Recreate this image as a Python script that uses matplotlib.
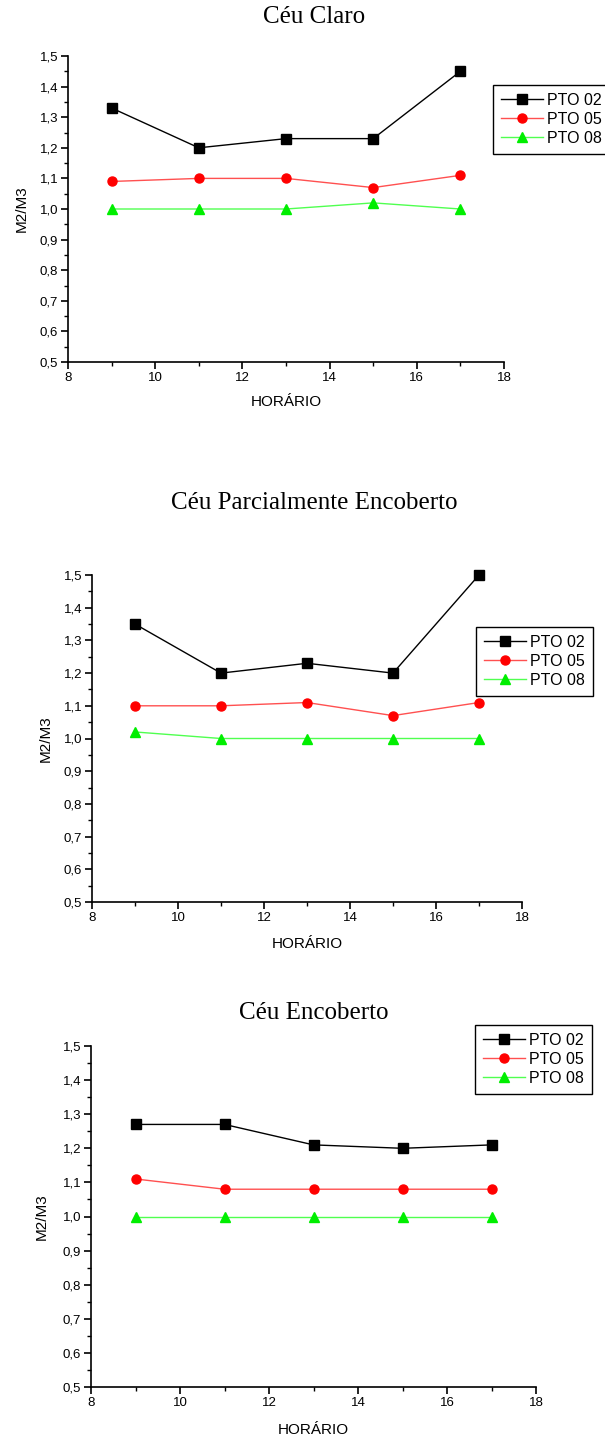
import matplotlib
matplotlib.use('Agg')
import matplotlib.pyplot as plt
from matplotlib.ticker import MultipleLocator, FuncFormatter

# horario (h)
horario = [9, 11, 13, 15, 17]
series_names = ['PTO 02', 'PTO 05', 'PTO 08']

# Ceu Claro
claro_pto02 = [1.33, 1.20, 1.23, 1.23, 1.45]
claro_pto05 = [1.09, 1.10, 1.10, 1.07, 1.11]
claro_pto08 = [1.00, 1.00, 1.00, 1.02, 1.00]

# Ceu Parcialmente Encoberto
parcial_pto02 = [1.35, 1.20, 1.23, 1.20, 1.50]
parcial_pto05 = [1.10, 1.10, 1.11, 1.07, 1.11]
parcial_pto08 = [1.02, 1.00, 1.00, 1.00, 1.00]

# Ceu Encoberto
encoberto_pto02 = [1.27, 1.27, 1.21, 1.20, 1.21]
encoberto_pto05 = [1.11, 1.08, 1.08, 1.08, 1.08]
encoberto_pto08 = [1.00, 1.00, 1.00, 1.00, 1.00]

titles = ['Céu Claro', 'Céu Parcialmente Encoberto', 'Céu Encoberto']

W, H = 605, 1441
fig = plt.figure(figsize=(W / 100, H / 100), dpi=100)

sans = 'Liberation Sans'
serif = 'Liberation Serif'


def px_axes(x0, x1, ytop, ybot):
    return fig.add_axes([x0 / W, 1 - ybot / H, (x1 - x0) / W, (ybot - ytop) / H])


def comma(v, pos):
    return ('%.1f' % v).replace('.', ',')


def draw_panel(box, title_y, title, data, label_y, leg_xy, ylab_x):
    ax = px_axes(*box)
    styles = [('black', 'black', 's'), ('#ff5050', 'red', 'o'), ('#50ff50', '#00ee00', '^')]
    for vals, name, (lc, mc, mk) in zip(data, series_names, styles):
        ax.plot(horario, vals, color=lc, lw=1.0, marker=mk, ms=6.5,
                mfc=mc, mec=mc, label=name, clip_on=False)
    ax.set_xlim(8, 18)
    ax.set_ylim(0.5, 1.5)
    ax.xaxis.set_major_locator(MultipleLocator(2))
    ax.xaxis.set_minor_locator(MultipleLocator(1))
    ax.yaxis.set_major_locator(MultipleLocator(0.1))
    ax.yaxis.set_minor_locator(MultipleLocator(0.05))
    ax.yaxis.set_major_formatter(FuncFormatter(comma))
    ax.spines['top'].set_visible(False)
    ax.spines['right'].set_visible(False)
    for s in ('left', 'bottom'):
        ax.spines[s].set_linewidth(1.2)
    ax.tick_params(which='major', direction='out', length=5, width=1.2,
                   labelsize=9.5, pad=2)
    ax.tick_params(which='minor', direction='out', length=3, width=1.0)
    for lab in ax.get_xticklabels() + ax.get_yticklabels():
        lab.set_family(sans)
    cx = (box[0] + box[1]) / 2
    fig.text(cx / W, 1 - label_y / H, 'HORÁRIO', ha='center', va='center',
             family=sans, fontsize=11)
    fig.text(ylab_x / W, 1 - (box[2] + box[3]) / 2 / H, 'M2/M3', rotation=90,
             ha='center', va='center', family=sans, fontsize=11)
    fig.text(314 / W, 1 - title_y / H, title, ha='center', va='center',
             family=serif, fontsize=18)
    leg = ax.legend(loc='upper left', bbox_to_anchor=(leg_xy[0] / W, 1 - leg_xy[1] / H),
                    bbox_transform=fig.transFigure, frameon=True, fancybox=False,
                    edgecolor='black', framealpha=1, prop={'family': sans, 'size': 11.5},
                    handlelength=2.6, handletextpad=0.3, labelspacing=0.25,
                    borderpad=0.5, borderaxespad=0)
    leg.get_frame().set_linewidth(1.0)
    return ax


draw_panel((68, 504, 56, 362), 17, titles[0],
           [claro_pto02, claro_pto05, claro_pto08], 402, (493, 85), 22)
draw_panel((92, 522, 575, 902), 503, titles[1],
           [parcial_pto02, parcial_pto05, parcial_pto08], 944, (476, 627), 46)
draw_panel((91, 536, 1046, 1387), 1013, titles[2],
           [encoberto_pto02, encoberto_pto05, encoberto_pto08], 1430, (475, 1025), 42)

fig.savefig('out.png', dpi=100)
